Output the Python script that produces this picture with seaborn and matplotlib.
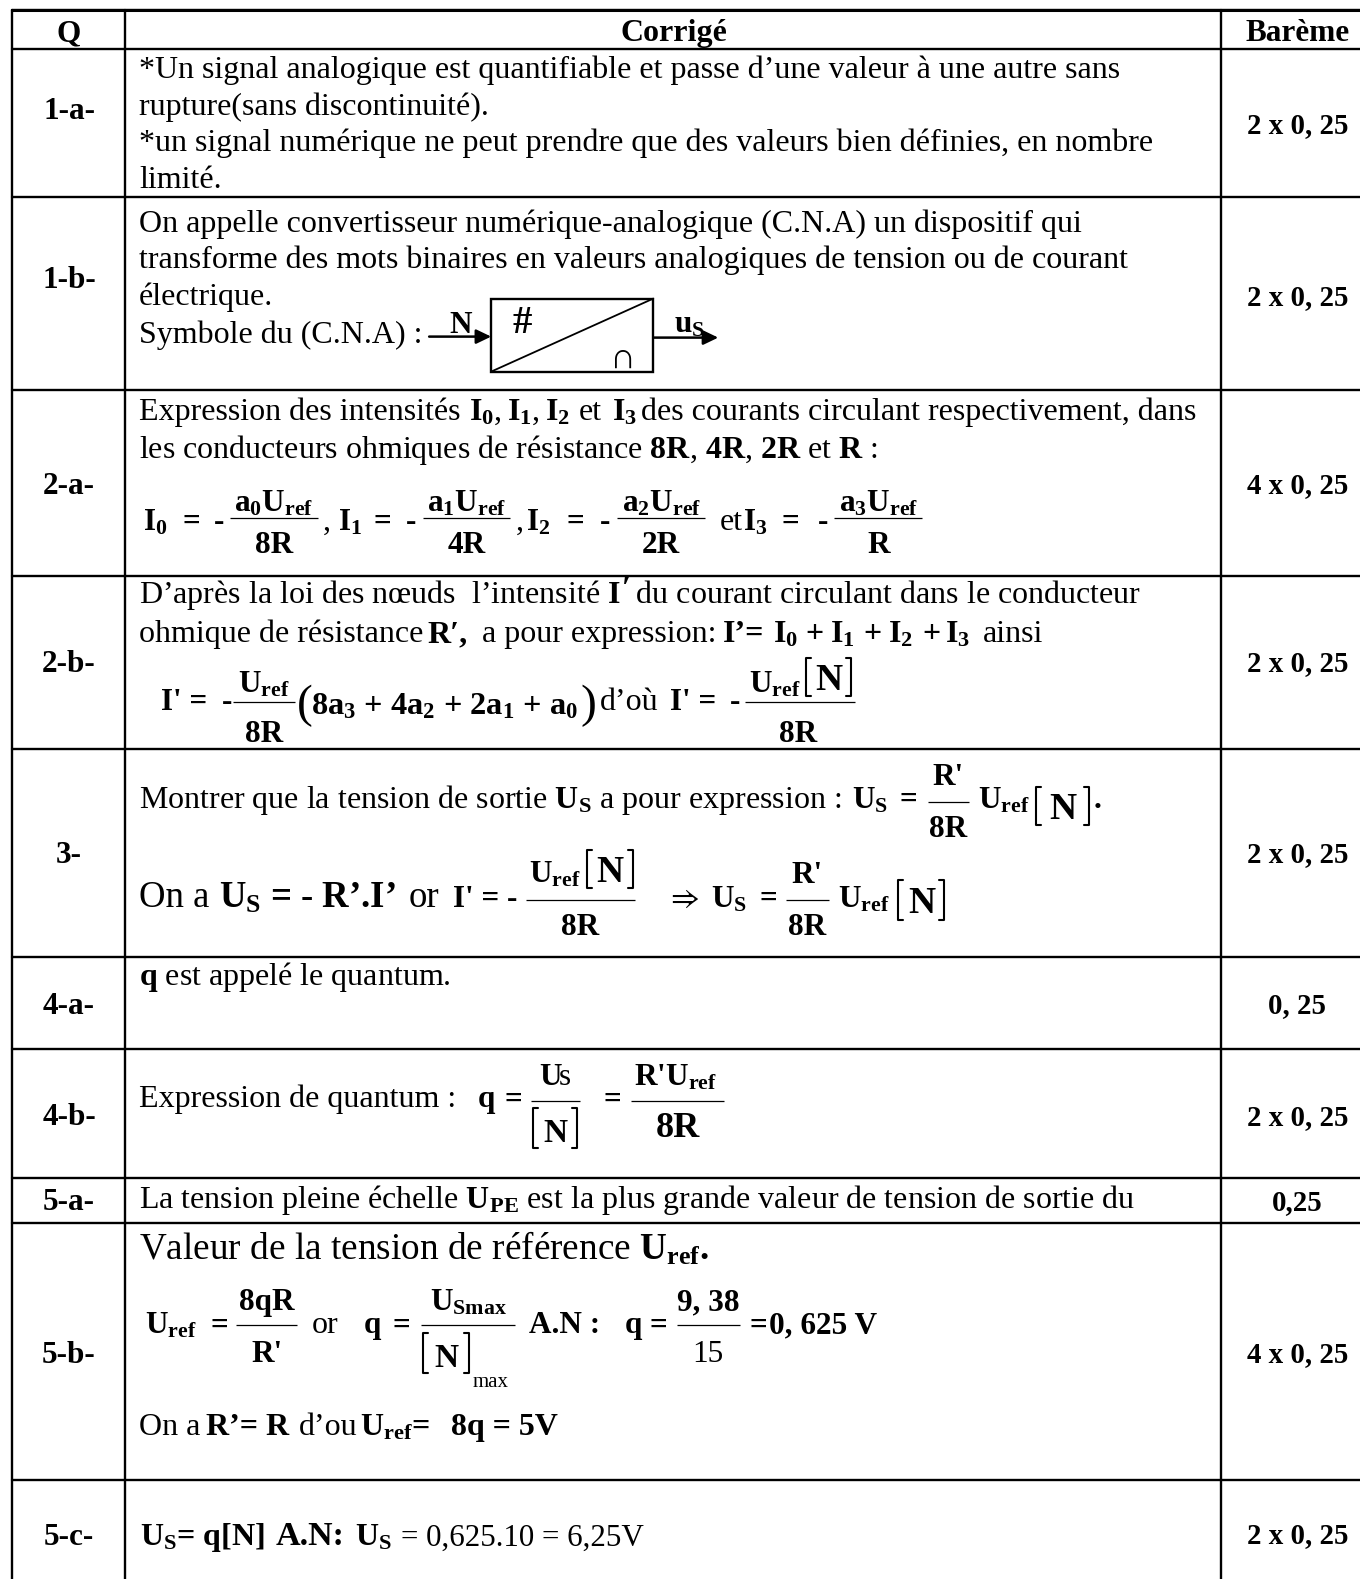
#!/usr/bin/env python3
"""Corrigé table: Q / Corrigé / Barème grid with the worked answers."""
import pandas as pd
import matplotlib
matplotlib.use('Agg')
import matplotlib.pyplot as plt
import seaborn as sns

question_labels = ['Q', '1-a-', '1-b-', '2-a-', '2-b-', '3-', '4-a-', '4-b-', '5-a-', '5-b-', '5-c-']
question_y = [33, 111, 280, 486, 664, 855, 1006, 1117, 1202, 1355, 1537]
bareme_labels = ['Barème', '2 x 0, 25', '2 x 0, 25', '4 x 0, 25', '2 x 0, 25', '2 x 0, 25',
                 '0, 25', '2 x 0, 25', '0,25', '4 x 0, 25', '2 x 0, 25']
bareme_y = [33, 125, 297, 485, 663, 854, 1005, 1117, 1202, 1354, 1535]
row_rules = [10, 49, 197, 390, 576, 749, 957, 1049, 1178, 1223, 1480]
col_rules = [12, 125, 1221]
TABLE_RIGHT = 1360
TABLE_BOTTOM = 1579

FS = 23
FB = 22.5
FN = 27

sns.set_theme(style='white')
plt.rcParams['font.family'] = ['Liberation Serif']
plt.rcParams['mathtext.fontset'] = 'custom'
plt.rcParams['mathtext.rm'] = 'Liberation Serif'
plt.rcParams['mathtext.it'] = 'Liberation Serif:italic'
plt.rcParams['mathtext.bf'] = 'Liberation Serif:bold'
plt.rcParams['mathtext.fallback'] = 'stix'
plt.rcParams['mathtext.default'] = 'regular'

fig = plt.figure(figsize=(13.605, 15.795), dpi=100, facecolor='white')
ax = fig.add_axes([0, 0, 1, 1])

# table rules as a long table, one unit per rule
rules = []
for i, y in enumerate(row_rules):
    rules += [dict(rule=f'h{i}', x=col_rules[0], y=y), dict(rule=f'h{i}', x=TABLE_RIGHT, y=y)]
for i, x in enumerate(col_rules):
    rules += [dict(rule=f'v{i}', x=x, y=row_rules[0]), dict(rule=f'v{i}', x=x, y=TABLE_BOTTOM)]
rules = pd.DataFrame(rules)
sns.lineplot(data=rules, x='x', y='y', units='rule', estimator=None, sort=False,
             color='black', lw=1.7, ax=ax, legend=False)
ax.plot([12, TABLE_RIGHT], [10, 10], color='black', lw=2.2)
ax.set_xlim(0, 1360)
ax.set_ylim(1579, 0)
ax.axis('off')


def T(x, y, s, size=FS, weight='normal', ha='left', **kw):
    ax.text(x, y, s, fontsize=size, fontweight=weight, ha=ha, va='baseline', color='black', **kw)


def B(x, y, s, size=FB, **kw):
    T(x, y, s, size=size, weight='bold', **kw)


def line(x0, x1, y, lw=0.9):
    ax.plot([x0, x1], [y, y], color='black', lw=lw, solid_capstyle='butt')


def brackets(x0, x1, y0, y1, lw=1.5):
    d = 5
    ax.plot([x0 + d, x0, x0, x0 + d], [y0, y0, y1, y1], color='black', lw=lw)
    ax.plot([x1 - d, x1, x1, x1 - d], [y0, y0, y1, y1], color='black', lw=lw)


def bracket_n(x0, x1, y0, y1, size=FN):
    brackets(x0, x1, y0, y1)
    B((x0 + x1) / 2, y1 - (y1 - y0) * 0.17, 'N', size=size, ha='center')


# first and last columns
for label, y in zip(question_labels, question_y):
    B(69, y + 8, label, ha='center')
for label, y in zip(bareme_labels, bareme_y):
    B(1297, y + 8, label, size=FB if label == 'Barème' else 20.8, ha='center')
T(674, 41, 'Corrigé', weight='bold', size=23, ha='center')

# row 1-a
T(139, 78, '*Un signal analogique est quantifiable et passe d’une valeur à une autre sans')
T(139, 115, 'rupture(sans discontinuité).')
T(139, 151, '*un signal numérique ne peut prendre que des valeurs bien définies, en nombre')
T(139, 188, 'limité.')

# row 1-b
T(139, 232, 'On appelle convertisseur numérique-analogique (C.N.A) un dispositif qui')
T(139, 268, 'transforme des mots binaires en valeurs analogiques de tension ou de courant')
T(139, 305, 'électrique.')
T(139, 343, 'Symbole du (C.N.A) :')
ax.add_patch(plt.Rectangle((491, 299), 162, 73, fill=False, ec='black', lw=1.7))
ax.plot([491, 653], [372, 299], color='black', lw=1.3)
for x0, x1, y in [(429, 491, 337), (653, 718, 338)]:
    ax.annotate('', xy=(x1, y), xytext=(x0, y),
                arrowprops=dict(arrowstyle='-|>,head_width=0.36,head_length=0.75', color='black', lw=1.8,
                                shrinkA=0, shrinkB=0))
B(449, 333, 'N')
B(512, 333, '#', size=28)
B(674, 332, r'u$_{S}$')
T(623, 368, '∩', size=26, ha='center')

# row 2-a
T(139, 420, 'Expression des intensités')
B(469, 420, r'I$_{0}$', size=FS)
T(494, 420, ',')
B(507, 420, r'I$_{1}$', size=FS)
T(532, 420, ',')
B(545, 420, r'I$_{2}$', size=FS)
T(579, 420, 'et')
B(612, 420, r'I$_{3}$', size=FS)
T(641, 420, 'des courants circulant respectivement, dans')
T(139, 458, r'les conducteurs ohmiques de résistance $\mathbf{8R}$, $\mathbf{4R}$, $\mathbf{2R}$ et $\mathbf{R}$ :')
for x_i, idx, x_eq, x_minus, x0, x1, den in [(143, '0', 182, 214, 230, 318, '8R'),
                                             (338, '1', 373, 406, 423, 510, '4R'),
                                             (526, '2', 566, 600, 617, 705, '2R'),
                                             (743, '3', 781, 818, 834, 922, 'R')]:
    B(x_i, 530, rf'I$_{{{idx}}}$')
    B(x_eq, 530, '=')
    B(x_minus, 530, '-')
    line(x0, x1, 518)
    B((x0 + x1) / 2, 511, rf'a$_{{{idx}}}$U$_{{ref}}$', ha='center')
    B((x0 + x1) / 2, 553, den, ha='center')
T(323, 530, ',')
T(516, 530, ',')
T(719, 530, 'et')

# row 2-b
T(139, 603, r"D’après la loi des nœuds  l’intensité $\mathbf{I}$  du courant circulant dans le conducteur")
T(622, 598, '′', weight='bold')
T(139, 642, 'ohmique de résistance')
B(427, 642, 'R′,', size=FS)
T(482, 642, 'a pour expression:')
B(723, 642, 'I’=', size=FS)
for x_i, idx in [(773, '0'), (830, '1'), (888, '2'), (945, '3')]:
    B(x_i, 642, rf'I$_{{{idx}}}$', size=FS)
for x_p in [805, 863, 922]:
    B(x_p, 642, '+', size=FS)
T(983, 642, 'ainsi')
B(161, 710, "I' =", size=FB)
B(222, 710, '-')
line(233, 295, 702)
B(264, 692, r'U$_{ref}$', ha='center')
B(264, 742, '8R', ha='center')
T(297, 717, '(', size=34)
B(311, 714, r'8a$_{3}$ + 4a$_{2}$ + 2a$_{1}$ + a$_{0}$', size=23.3)
T(580, 717, ')', size=34)
T(600, 710, 'd’où')
B(670, 710, "I' =", size=FB)
B(730, 710, '-')
line(745, 855, 702)
B(749, 692, r'U$_{ref}$')
bracket_n(806, 851, 658, 696)
B(798, 742, '8R', ha='center')

# row 3
T(139, 808, 'Montrer que la tension de sortie $\\mathbf{U_{S}}$ a pour expression :')
B(852, 808, r'U$_{S}$')
B(899, 808, '=')
line(928, 969, 802)
B(948, 785, "R'", ha='center')
B(948, 837, '8R', ha='center')
B(978, 808, r'U$_{ref}$')
bracket_n(1036, 1089, 787, 825)
B(1093, 808, '.')
T(139, 907, 'On a', size=26.5)
B(219, 907, r'U$_{S}$ = - R’.I’', size=26.5)
T(408, 907, 'or', size=26.5)
B(453, 907, "I' =", size=FB)
B(507, 907, '-')
line(526, 635, 900)
B(529, 882, r'U$_{ref}$')
bracket_n(587, 633, 850, 888)
B(580, 935, '8R', ha='center')
T(666, 907, r'$\Rightarrow$', size=FB)
B(711, 907, r'U$_{S}$')
B(759, 907, '=')
line(786, 829, 900)
B(807, 883, "R'", ha='center')
B(807, 935, '8R', ha='center')
B(838, 907, r'U$_{ref}$')
bracket_n(898, 944, 880, 920)

# row 4-a / 4-b
T(139, 985, r'$\mathbf{q}$ est appelé le quantum.')
T(139, 1107, 'Expression de quantum :')
B(478, 1107, 'q')
B(504, 1107, '=')
line(531, 580, 1101)
B(539, 1085, 'U')
T(559, 1085, 's', size=FB)
bracket_n(533, 577, 1108, 1148, size=24)
B(603, 1107, '=')
line(631, 724, 1101)
B(634, 1085, r"R'U$_{ref}$")
B(678, 1137, '8R', size=26, ha='center')

# row 5-a
T(139, 1208, r'La tension pleine échelle $\mathbf{U_{PE}}$ est la plus grande valeur de tension de sortie du')

# row 5-b
T(139, 1259, r'Valeur de la tension de référence $\mathbf{U_{ref}.}$', size=26.8)
B(145, 1333, r'U$_{ref}$')
B(210, 1333, '=')
line(236, 297, 1325)
B(267, 1310, '8qR', ha='center')
B(267, 1362, "R'", ha='center')
T(312, 1333, 'or')
B(364, 1333, 'q')
B(392, 1333, '=')
line(421, 515, 1325)
B(430, 1310, r'U$_{Smax}$')
bracket_n(423, 469, 1333, 1373, size=24)
T(472, 1387, 'max', size=15)
B(529, 1333, 'A.N :')
B(625, 1333, 'q')
B(649, 1333, '=')
line(677, 740, 1325)
B(708, 1310, '9, 38', ha='center')
T(708, 1362, '15', size=FB, ha='center')
B(749, 1333, '=')
B(769, 1333, '0, 625 V')
T(139, 1435, 'On a')
B(206, 1435, 'R’= R', size=FS)
T(299, 1435, 'd’ou')
B(360, 1435, r'U$_{ref}$=', size=FS)
B(451, 1435, '8q = 5V', size=FS)

# row 5-c
B(140, 1545, r'U$_{S}$= q[N]', size=FS)
B(276, 1545, 'A.N:', size=24.5)
B(355, 1545, r'U$_{S}$', size=FS)
T(401, 1545, '= 0,625.10 = 6,25V', size=22.3)

fig.savefig('out.png', dpi=100, facecolor='white')
